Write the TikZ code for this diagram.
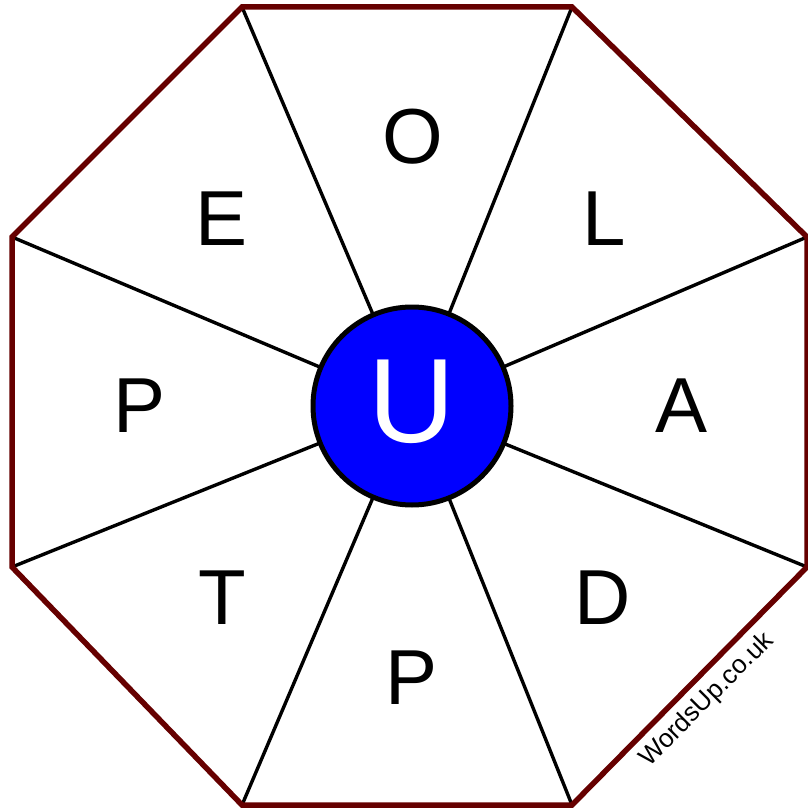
\documentclass[tikz,border=0pt]{standalone}
\usepackage{fontspec}
\setmainfont{Liberation Sans}
\definecolor{rim}{HTML}{660000}
\definecolor{hub}{HTML}{0000FF}
\begin{document}
\begin{tikzpicture}[x=1pt,y=-1pt,
  letter/.style={inner sep=0pt,font=\fontsize{78}{78}\selectfont},
  spoke/.style={draw=black,line width=3.4pt},
  rimline/.style={draw=rim,line width=5.5pt,line join=miter}]
\useasboundingbox (0,0) rectangle (807,810);
\coordinate (v1) at (242,7);
\coordinate (v2) at (572,7);
\coordinate (v3) at (807,237);
\coordinate (v4) at (807,567);
\coordinate (v5) at (572,805);
\coordinate (v6) at (242,805);
\coordinate (v7) at (12,567);
\coordinate (v8) at (12,237);
\node[circle,minimum size=198pt,inner sep=0pt] (c) at (412,406) {};
\foreach \v in {v1,v2,v3,v4,v5,v6,v7,v8}{\draw[spoke] (c.center) -- (\v);}
\draw[rimline] (v1) -- (v2) -- (v3) -- (v4) -- (v5) -- (v6) -- (v7) -- (v8) -- cycle;
\node[circle,minimum size=198pt,inner sep=0pt,draw=black,line width=5pt,fill=hub] (hubnode) at (412,406) {};
\node[inner sep=0pt,text=white,font=\fontsize{120}{120}\selectfont] (u) at (412,402) {U};
\node[letter] (lo) at (413,137) {O};
\node[letter] (le) at (222,219) {E};
\node[letter] (ll) at (604,219) {L};
\node[letter] (lp1) at (140,406) {P};
\node[letter] (la) at (682,406) {A};
\node[letter] (lt) at (222,598) {T};
\node[letter] (ld) at (603,598) {D};
\node[letter] (lp2) at (412,678) {P};
\node[inner sep=0pt,rotate=45,font=\fontsize{26}{26}\selectfont] (wm) at (707,700) {WordsUp.co.uk};
\end{tikzpicture}
\end{document}
